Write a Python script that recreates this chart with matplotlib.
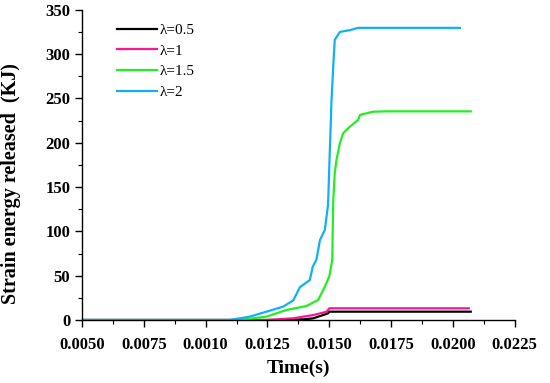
import numpy as np
import matplotlib.pyplot as plt
from matplotlib.ticker import MultipleLocator, FixedLocator, FixedFormatter

# values
t_05 = [0.0050, 0.0130, 0.0140, 0.01435, 0.01475, 0.01495, 0.0150, 0.02072]
e_05 = [0.0, 0.0, 0.8, 1.9, 5.6, 7.5, 9.4, 9.4]

t_1 = [0.0050, 0.01246, 0.01354, 0.01435, 0.01475, 0.01490, 0.0150, 0.02064]
e_1 = [0.0, 0.0, 1.9, 5.6, 8.3, 9.5, 13.2, 13.2]

t_15 = [0.0050, 0.01138, 0.01246, 0.01327, 0.01408, 0.01455, 0.01482, 0.0150,
        0.01512, 0.01516, 0.01522, 0.01529, 0.01543, 0.01556, 0.01583, 0.01617,
        0.01624, 0.01677, 0.0173, 0.02072]
e_15 = [0.0, 0.0, 3.8, 11.3, 15.8, 22.6, 37.6, 49.0,
        67.7, 135.0, 165.6, 180.6, 199.6, 210.7, 218.0, 225.8,
        231.4, 235.0, 235.4, 235.4]

t_2 = [0.0050, 0.01098, 0.01179, 0.01246, 0.01313, 0.01354, 0.01381, 0.01421,
       0.01433, 0.01448, 0.01462, 0.01482, 0.01495, 0.0150, 0.01509, 0.01516,
       0.01522, 0.01543, 0.01583, 0.01617, 0.02028]
e_2 = [0.0, 0.0, 3.8, 9.4, 15.0, 22.0, 37.0, 45.0,
       60.0, 68.0, 90.0, 101.6, 130.0, 173.0, 248.0, 286.0,
       316.0, 325.0, 327.0, 329.6, 329.6]

xticks = [0.0050, 0.0075, 0.0100, 0.0125, 0.0150, 0.0175, 0.0200, 0.0225]
xlabels = ['0.0050', '0.0075', '0.0010', '0.0125', '0.0150', '0.0175', '0.0200', '0.0225']

plt.rcParams['font.family'] = ['Liberation Serif', 'DejaVu Serif']

fig = plt.figure(figsize=(5.5, 3.83), dpi=100)
ax = fig.add_axes([0.149, 0.1645, 0.787, 0.81])

ax.plot(t_05, e_05, color='#000000', lw=1.6, label='λ=0.5')
ax.plot(t_1, e_1, color='#ff1493', lw=1.6, label='λ=1')
ax.plot(t_15, e_15, color='#22ee22', lw=1.6, label='λ=1.5')
ax.plot(t_2, e_2, color='#10b0f8', lw=1.6, label='λ=2')

ax.set_xlim(0.0050, 0.0225)
ax.set_ylim(0, 350)
ax.xaxis.set_major_locator(FixedLocator(xticks))
ax.xaxis.set_major_formatter(FixedFormatter(xlabels))
ax.xaxis.set_minor_locator(MultipleLocator(0.00125))
ax.yaxis.set_major_locator(MultipleLocator(50))
ax.yaxis.set_minor_locator(MultipleLocator(25))

for s in ['top', 'right']:
    ax.spines[s].set_visible(False)
for s in ['left', 'bottom']:
    ax.spines[s].set_linewidth(1.0)
ax.tick_params(which='major', direction='out', length=5, width=1.0, labelsize=12)
ax.tick_params(which='minor', direction='out', length=3, width=0.8)
ax.tick_params(axis='x', pad=7)
for lb in ax.get_xticklabels() + ax.get_yticklabels():
    lb.set_fontweight('bold')

ax.set_xlabel('Time(s)', fontsize=14, fontweight='bold', labelpad=5)
ax.set_ylabel('Strain energy released  (KJ)', fontsize=14.5, fontweight='bold')
ax.yaxis.set_label_coords(-0.14, 0.44)

ax.legend(loc='upper left', bbox_to_anchor=(0.05, 1.0), frameon=False, fontsize=11,
          handlelength=2.6, handletextpad=0.15, labelspacing=0.45)

fig.savefig('out.png', dpi=100)
